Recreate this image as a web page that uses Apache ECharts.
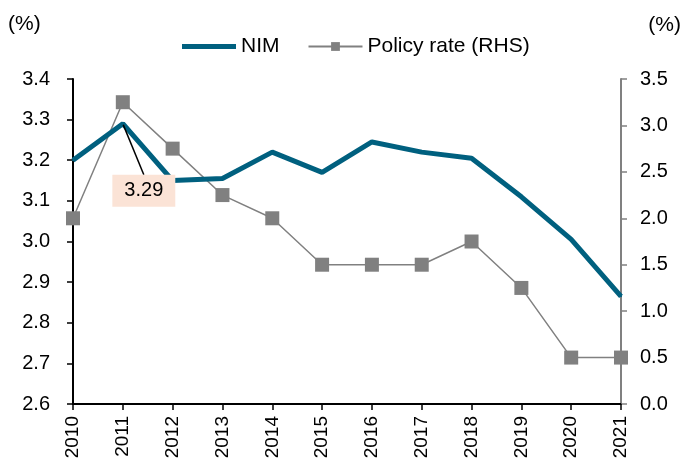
<!DOCTYPE html>
<html>
<head>
<meta charset="utf-8">
<script src="https://cdn.jsdelivr.net/npm/echarts@6/dist/echarts.min.js"></script>
<style>
  html, body { margin: 0; padding: 0; background: #fff; }
</style>
</head>
<body>
<div id="chart" style="width:684px;height:466px"></div>
<script>
// categories and values
let years = ['2010', '2011', '2012', '2013', '2014', '2015', '2016', '2017', '2018', '2019', '2020', '2021'];
let nim = [3.20, 3.29, 3.15, 3.155, 3.22, 3.17, 3.245, 3.22, 3.205, 3.11, 3.005, 2.865];
let policyRate = [2.0, 3.25, 2.75, 2.25, 2.0, 1.5, 1.5, 1.5, 1.75, 1.25, 0.5, 0.5];
let highlightIndex = 1; // 2011 NIM peak gets the callout

let colors = {
  nim: '#00607f',
  rate: '#808080',
  text: '#000000',
  tag: '#fbe3d6'
};
let font = 'Liberation Sans, Arial, sans-serif';

let chart = echarts.init(document.getElementById('chart'), null, { renderer: 'canvas' });

let option = {
  animation: false,
  textStyle: { fontFamily: font },
  grid: { left: 73, right: 63, top: 79, bottom: 62 },
  legend: {
    top: 31,
    left: 177,
    itemGap: 28,
    itemWidth: 54,
    itemHeight: 11,
    textStyle: { fontSize: 21, color: colors.text, fontFamily: font },
    data: [
      { name: 'NIM', icon: 'path://M0,0 L54,0 L54,5 L0,5 Z', itemStyle: { color: colors.nim } },
      { name: 'Policy rate (RHS)' }
    ]
  },
  graphic: [
    { type: 'text', left: 8, top: 14, style: { text: '(%)', font: '21px ' + font, fill: colors.text } },
    { type: 'text', right: 3, top: 15, style: { text: '(%)', font: '21px ' + font, fill: colors.text } }
  ],
  xAxis: {
    type: 'category',
    data: years,
    boundaryGap: false,
    axisLine: { lineStyle: { color: '#000', width: 2 } },
    axisTick: { show: true, alignWithLabel: true, length: 6, lineStyle: { color: '#000', width: 1.5 } },
    axisLabel: { rotate: 90, color: colors.text, fontSize: 19, margin: 12, fontFamily: font }
  },
  yAxis: [
    {
      type: 'value',
      min: 2.6,
      max: 3.4,
      interval: 0.1,
      position: 'left',
      axisLine: { show: true, lineStyle: { color: '#000', width: 2 } },
      axisTick: { show: true, length: 6, lineStyle: { color: '#000', width: 1.5 } },
      splitLine: { show: false },
      axisLabel: {
        color: colors.text, fontSize: 20, margin: 23, fontFamily: font,
        formatter: (v) => v.toFixed(1)
      }
    },
    {
      type: 'value',
      min: 0,
      max: 3.5,
      interval: 0.5,
      position: 'right',
      axisLine: { show: true, lineStyle: { color: colors.rate, width: 2 } },
      axisTick: { show: true, length: 6, lineStyle: { color: colors.rate, width: 1.5 } },
      splitLine: { show: false },
      axisLabel: {
        color: colors.text, fontSize: 20, margin: 19, fontFamily: font,
        formatter: (v) => v.toFixed(1)
      }
    }
  ],
  series: [
    {
      name: 'Policy rate (RHS)',
      type: 'line',
      yAxisIndex: 1,
      data: policyRate,
      symbol: 'rect',
      symbolSize: 14,
      itemStyle: { color: colors.rate },
      lineStyle: { color: colors.rate, width: 1.5 },
      z: 2
    },
    {
      name: 'NIM',
      type: 'line',
      yAxisIndex: 0,
      data: nim.map((v, i) => {
        if (i !== highlightIndex) return v;
        return {
          value: v,
          label: {
            show: true,
            position: 'bottom',
            formatter: (p) => p.value.toFixed(2),
            color: colors.text,
            fontSize: 20,
            fontFamily: font,
            lineHeight: 20,
            backgroundColor: colors.tag,
            padding: [6, 12, 6, 12]
          },
          labelLine: { show: true, lineStyle: { color: '#000', width: 1.5 } }
        };
      }),
      symbol: 'circle',
      symbolSize: 2,
      showSymbol: true,
      lineStyle: { color: colors.nim, width: 5 },
      itemStyle: { color: colors.nim },
      labelLayout: (params) => {
        if (params.dataIndex !== highlightIndex) return {};
        return { dx: 21, dy: 45 };
      },
      labelLine: { show: true, lineStyle: { color: '#000', width: 1.5 } },
      z: 3
    }
  ]
};

chart.setOption(option);
</script>
</body>
</html>
